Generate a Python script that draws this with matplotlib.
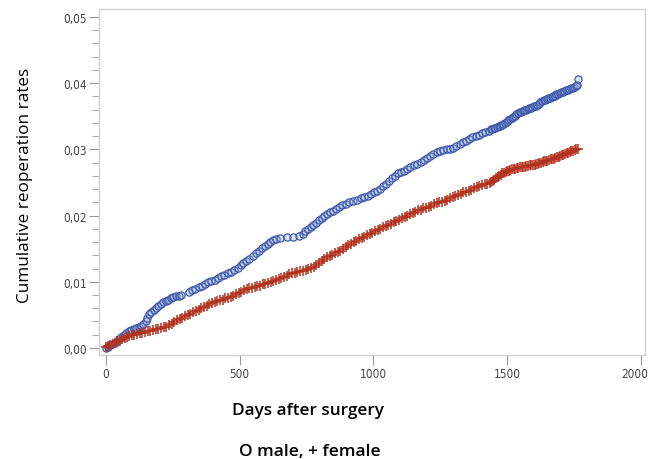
import matplotlib
matplotlib.use("Agg")
import matplotlib.pyplot as plt
from matplotlib.ticker import FixedLocator, MultipleLocator, FixedFormatter
from matplotlib import font_manager
from matplotlib.transforms import ScaledTranslation

# male cumulative reoperation rate
male_days = [0, 8, 15, 24, 32, 41, 50, 58, 67, 76, 86, 95, 104, 113, 122, 132, 140, 148, 155, 162,
             170, 178, 187, 196, 205, 214, 224, 233, 242, 252, 262, 272, 282, 312, 322, 334, 346, 358, 370, 382,
             394, 406, 418, 430, 442, 455, 468, 480, 492, 503, 514, 525, 536, 548, 560, 571, 582, 593, 604, 614,
             624, 636, 650, 675, 700, 722, 735, 745, 755, 765, 775, 785, 795, 806, 816, 826, 837, 848, 860, 872,
             884, 896, 910, 925, 940, 952, 965, 978, 990, 1002, 1014, 1025, 1036, 1047, 1058, 1069, 1080, 1091, 1102, 1114,
             1126, 1138, 1150, 1163, 1176, 1188, 1200, 1212, 1224, 1236, 1248, 1260, 1273, 1286, 1298, 1310, 1322, 1334, 1346, 1358,
             1370, 1382, 1394, 1406, 1418, 1430, 1438, 1444, 1450, 1456, 1462, 1468, 1474, 1480, 1486, 1492, 1498, 1504, 1510, 1516,
             1522, 1528, 1534, 1540, 1546, 1552, 1558, 1564, 1570, 1576, 1582, 1588, 1594, 1600, 1606, 1612, 1618, 1624, 1630, 1636,
             1642, 1648, 1654, 1660, 1666, 1672, 1678, 1684, 1690, 1696, 1702, 1708, 1714, 1720, 1726, 1732, 1738, 1744, 1750, 1756,
             1762, 1764]
male_rate = [0.0000, 0.0002, 0.0004, 0.0006, 0.0008, 0.0011, 0.0014, 0.0016, 0.0019, 0.0022, 0.0025, 0.0027, 0.0028, 0.0030, 0.0031, 0.0033, 0.0036, 0.0041, 0.0046, 0.0052,
             0.0055, 0.0058, 0.0061, 0.0064, 0.0067, 0.0069, 0.0071, 0.0073, 0.0075, 0.0077, 0.0078, 0.0079, 0.0080, 0.0084, 0.0087, 0.0089, 0.0092, 0.0094, 0.0097, 0.0099,
             0.0101, 0.0103, 0.0106, 0.0108, 0.0110, 0.0113, 0.0115, 0.0118, 0.0121, 0.0125, 0.0128, 0.0131, 0.0135, 0.0139, 0.0143, 0.0147, 0.0151, 0.0154, 0.0157, 0.0160,
             0.0163, 0.0165, 0.0166, 0.0168, 0.0168, 0.0169, 0.0172, 0.0176, 0.0179, 0.0182, 0.0185, 0.0189, 0.0193, 0.0197, 0.0200, 0.0203, 0.0205, 0.0207, 0.0210, 0.0213,
             0.0216, 0.0218, 0.0220, 0.0222, 0.0224, 0.0226, 0.0228, 0.0230, 0.0233, 0.0235, 0.0237, 0.0240, 0.0244, 0.0248, 0.0252, 0.0256, 0.0260, 0.0264, 0.0266, 0.0268,
             0.0270, 0.0273, 0.0276, 0.0278, 0.0281, 0.0284, 0.0287, 0.0290, 0.0293, 0.0296, 0.0298, 0.0299, 0.0300, 0.0301, 0.0302, 0.0305, 0.0308, 0.0311, 0.0313, 0.0316,
             0.0318, 0.0320, 0.0322, 0.0324, 0.0326, 0.0328, 0.0330, 0.0331, 0.0332, 0.0333, 0.0334, 0.0335, 0.0336, 0.0337, 0.0338, 0.0340, 0.0342, 0.0344, 0.0346, 0.0347,
             0.0349, 0.0351, 0.0353, 0.0355, 0.0356, 0.0357, 0.0358, 0.0359, 0.0360, 0.0361, 0.0362, 0.0363, 0.0364, 0.0365, 0.0366, 0.0367, 0.0369, 0.0371, 0.0373, 0.0374,
             0.0375, 0.0376, 0.0377, 0.0378, 0.0379, 0.0380, 0.0381, 0.0383, 0.0384, 0.0385, 0.0386, 0.0387, 0.0388, 0.0389, 0.0390, 0.0391, 0.0392, 0.0393, 0.0394, 0.0396,
             0.0397, 0.0406]

# female cumulative reoperation rate
female_days = [0, 8, 16, 25, 34, 43, 52, 61, 70, 79, 88, 97, 106, 116, 126, 136, 146, 156, 166, 176,
               186, 196, 206, 216, 226, 236, 246, 256, 266, 276, 286, 296, 306, 316, 326, 336, 346, 356, 366, 376,
               386, 396, 406, 416, 426, 436, 446, 456, 466, 476, 486, 496, 506, 516, 526, 536, 546, 556, 566, 576,
               586, 596, 606, 616, 626, 636, 646, 656, 666, 676, 686, 696, 706, 716, 726, 736, 746, 756, 766, 776,
               786, 796, 806, 816, 826, 836, 846, 856, 866, 876, 886, 896, 906, 916, 926, 936, 946, 956, 966, 976,
               986, 996, 1006, 1016, 1026, 1036, 1046, 1056, 1066, 1076, 1086, 1096, 1106, 1116, 1126, 1136, 1146, 1156, 1166, 1176,
               1186, 1196, 1206, 1216, 1226, 1236, 1246, 1256, 1266, 1276, 1286, 1296, 1306, 1316, 1326, 1336, 1346, 1356, 1366, 1376,
               1386, 1396, 1406, 1416, 1426, 1434, 1440, 1446, 1452, 1458, 1464, 1470, 1476, 1482, 1488, 1494, 1500, 1506, 1512, 1518,
               1524, 1530, 1536, 1542, 1548, 1554, 1560, 1566, 1572, 1578, 1584, 1590, 1596, 1602, 1608, 1614, 1620, 1626, 1632, 1638,
               1644, 1650, 1656, 1662, 1668, 1674, 1680, 1686, 1692, 1698, 1704, 1710, 1716, 1722, 1728, 1734, 1740, 1746, 1752, 1758,
               1764]
female_rate = [0.0002, 0.0003, 0.0005, 0.0006, 0.0008, 0.0010, 0.0011, 0.0013, 0.0015, 0.0017, 0.0018, 0.0019, 0.0020, 0.0021, 0.0022, 0.0023, 0.0024, 0.0025, 0.0026, 0.0027,
               0.0028, 0.0029, 0.0030, 0.0031, 0.0032, 0.0034, 0.0036, 0.0039, 0.0042, 0.0044, 0.0046, 0.0048, 0.0050, 0.0052, 0.0054, 0.0056, 0.0058, 0.0060, 0.0062, 0.0064,
               0.0066, 0.0068, 0.0069, 0.0071, 0.0072, 0.0073, 0.0075, 0.0076, 0.0077, 0.0079, 0.0081, 0.0083, 0.0085, 0.0087, 0.0089, 0.0090, 0.0091, 0.0092, 0.0093, 0.0094,
               0.0096, 0.0097, 0.0098, 0.0100, 0.0101, 0.0102, 0.0104, 0.0105, 0.0107, 0.0109, 0.0111, 0.0113, 0.0114, 0.0115, 0.0116, 0.0117, 0.0118, 0.0120, 0.0121, 0.0123,
               0.0125, 0.0128, 0.0131, 0.0134, 0.0137, 0.0139, 0.0141, 0.0143, 0.0145, 0.0147, 0.0150, 0.0152, 0.0155, 0.0157, 0.0160, 0.0162, 0.0164, 0.0166, 0.0168, 0.0170,
               0.0172, 0.0174, 0.0176, 0.0178, 0.0180, 0.0182, 0.0184, 0.0186, 0.0188, 0.0190, 0.0192, 0.0194, 0.0196, 0.0198, 0.0200, 0.0202, 0.0204, 0.0206, 0.0208, 0.0209,
               0.0211, 0.0212, 0.0213, 0.0215, 0.0217, 0.0219, 0.0220, 0.0221, 0.0222, 0.0224, 0.0226, 0.0228, 0.0229, 0.0231, 0.0233, 0.0235, 0.0236, 0.0237, 0.0239, 0.0241,
               0.0243, 0.0245, 0.0246, 0.0247, 0.0248, 0.0249, 0.0250, 0.0252, 0.0254, 0.0256, 0.0258, 0.0260, 0.0262, 0.0264, 0.0265, 0.0266, 0.0267, 0.0268, 0.0269, 0.0270,
               0.0271, 0.0271, 0.0272, 0.0272, 0.0273, 0.0273, 0.0274, 0.0274, 0.0275, 0.0275, 0.0276, 0.0276, 0.0277, 0.0277, 0.0278, 0.0278, 0.0279, 0.0280, 0.0281, 0.0282,
               0.0283, 0.0283, 0.0284, 0.0285, 0.0285, 0.0286, 0.0287, 0.0288, 0.0289, 0.0290, 0.0291, 0.0292, 0.0293, 0.0294, 0.0295, 0.0296, 0.0297, 0.0298, 0.0299, 0.0300,
               0.0301]

x_ticks = [0, 500, 1000, 1500, 2000]
x_tick_labels = ["0", "500", "1000", "1500", "2000"]
y_ticks = [0.00, 0.01, 0.02, 0.03, 0.04, 0.05]
y_tick_labels = ["0,00", "0,01", "0,02", "0,03", "0,04", "0,05"]

# narrow font for the tick labels, if one is around
installed = {f.name for f in font_manager.fontManager.ttflist}
narrow = [n for n in ["Liberation Sans Narrow", "DejaVu Sans"] if n in installed]
label_font = ["Open Sans", "DejaVu Sans"]

fig = plt.figure(figsize=(6.5, 4.6), dpi=100)
ax = fig.add_axes([99 / 650, 1 - 356 / 460, 546 / 650, 346 / 460])

# male: open blue circles, female: red plus signs
ax.plot(male_days, male_rate, linestyle="none", marker="o", markersize=5.2,
        markerfacecolor=(0.6, 0.68, 0.9, 0.35), markeredgecolor="#3d58a8", markeredgewidth=0.9)
ax.plot(female_days, female_rate, linestyle="none", marker="+", markersize=6.5,
        markeredgecolor="#b3321d", markeredgewidth=1.1)

ax.set_xlim(-26, 2015)
ax.set_ylim(-0.00106, 0.0512)

ax.xaxis.set_major_locator(FixedLocator(x_ticks))
ax.xaxis.set_major_formatter(FixedFormatter(x_tick_labels))
ax.yaxis.set_major_locator(FixedLocator(y_ticks))
ax.yaxis.set_major_formatter(FixedFormatter(y_tick_labels))
ax.yaxis.set_minor_locator(MultipleLocator(0.002))

for spine in ax.spines.values():
    spine.set_color("#d0d0d0")
    spine.set_linewidth(1.0)

ax.tick_params(axis="both", which="major", length=7, width=0.8, color="#999999", pad=2)
ax.tick_params(axis="y", which="minor", length=5, width=0.8, color="#aaaaaa")
for lbl in ax.get_xticklabels() + ax.get_yticklabels():
    lbl.set_fontfamily(narrow)
    lbl.set_fontstretch("condensed")
    lbl.set_fontsize(8.5)
    lbl.set_color("#444444")

# last x label sits right at the edge, nudge it in so it is not cut
last = ax.get_xticklabels()[-1]
last.set_transform(last.get_transform() + ScaledTranslation(-6 / 100, 0, fig.dpi_scale_trans))

fig.text(25 / 650, 1 - 185 / 460, "Cumulative reoperation rates", rotation=90,
         ha="center", va="center", fontsize=12.3, family=label_font)
fig.text(308 / 650, 1 - 411 / 460, "Days after surgery", ha="center", va="center",
         fontsize=12.3, fontweight="semibold", family=label_font)
fig.text(310 / 650, 1 - 452 / 460, "O male, + female", ha="center", va="center",
         fontsize=12.5, fontweight="semibold", family=label_font)

fig.savefig("out.png", dpi=100)
